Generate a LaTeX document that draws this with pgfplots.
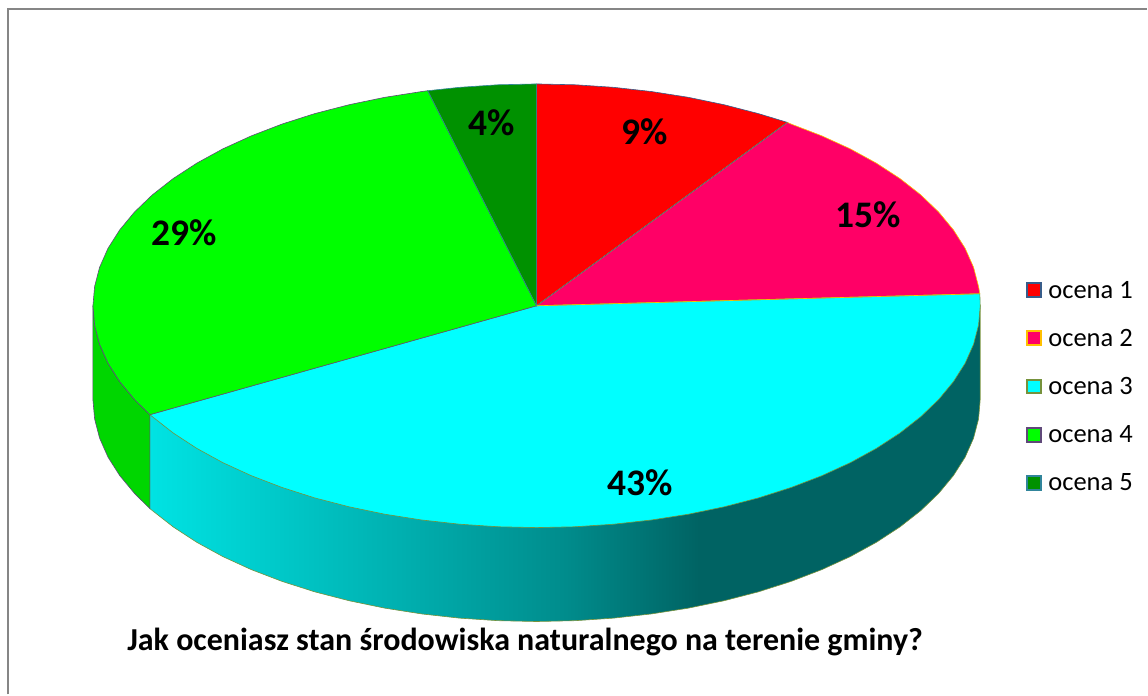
\documentclass[border=0pt]{standalone}
\usepackage{fontspec}
\setmainfont{Carlito}
\usepackage{pgfplots}
\pgfplotsset{compat=1.18}
\definecolor{eA}{RGB}{56,93,138}
\definecolor{eB}{RGB}{255,192,0}
\definecolor{eC}{RGB}{118,146,60}
\definecolor{eD}{RGB}{96,73,122}
\definecolor{eE}{RGB}{49,133,155}
\definecolor{sA}{RGB}{255,0,0}
\definecolor{sB}{RGB}{255,0,102}
\definecolor{sC}{RGB}{0,255,255}
\definecolor{sD}{RGB}{0,255,0}
\definecolor{sE}{RGB}{0,145,0}
\definecolor{frameGray}{RGB}{134,134,134}
\pgfdeclarehorizontalshading{cyanwall}{100bp}{
  rgb(0bp)=(0,0.89,0.89);
  rgb(25bp)=(0,0.89,0.89);
  rgb(40bp)=(0,0.69,0.69);
  rgb(50bp)=(0,0.55,0.55);
  rgb(58bp)=(0,0.39,0.39);
  rgb(100bp)=(0,0.39,0.39)}
\begin{document}
\begin{tikzpicture}
\begin{axis}[
  scale only axis, width=1148pt, height=695pt,
  xmin=0, xmax=1148, ymin=0, ymax=695, y dir=reverse,
  hide axis, clip=false,
  legend image code/.code={\draw[#1,line width=2pt] (0pt,-7pt) rectangle (14.5pt,7pt);},
  legend style={at={(axis cs:1026.5,281)}, anchor=north west, draw=none, fill=none,
    font=\fontsize{26.5}{26.5}\selectfont, row sep=29.5pt, inner sep=0pt,
    nodes={inner xsep=6pt, inner ysep=0pt}},
  legend cell align=left,
]
\path (axis cs:0,0) rectangle (axis cs:1148,695);
% frame
\addplot[frameGray, line width=1.8pt, forget plot] coordinates {(8,695) (8,9) (1148,9)};
% side walls
\addplot[shade, shading=cyanwall, draw=eC, line width=0.6pt, forget plot] coordinates {
(981,306) (981,400) (979.3,419.35) (974.3,438.55) (965.9,457.5) (954.2,475.9) (939.4,493.8) (921.5,511)
(900.7,527.3) (877.1,542.7) (851,557) (822.4,570.1) (791.7,581.85) (759,592.3) (724.6,601.2) (688.9,608.6)
(651.9,614.4) (614.1,618.6) (575.7,621.15) (537,622) (498.3,621.15) (459.9,618.6) (422.1,614.4) (385.1,608.6)
(349.4,601.2) (315,592.3) (282.3,581.85) (251.6,570.1) (223,557) (196.9,542.7) (173.3,527.3) (152.5,511)
(150,509) (150,415)} -- cycle;
\addplot[fill={rgb,255:red,0;green,214;blue,0}, draw=eD, line width=0.6pt, forget plot] coordinates {
(150,509) (134.6,493.8) (119.8,475.9) (108.1,457.5) (99.7,438.55) (94.7,419.35) (93,400) (93,306)
(94.7,325.35) (99.7,344.55) (108.1,363.5) (119.8,381.9) (134.6,399.8) (150,415)} -- cycle;
% top slices
\addplot[fill=sA, draw=eA, line width=0.6pt] coordinates {
(537,306) (537,84) (575.7,84.85) (614.1,87.4) (651.9,91.6) (688.9,97.4) (724.6,104.8) (759,113.7) (788,122.5)} -- cycle;
\addlegendentry{ocena 1}
\addplot[fill=sB, draw=eB, line width=0.6pt] coordinates {
(537,306) (788,122.5) (791.7,124.15) (822.4,135.94) (851,149) (877.1,163.3) (900.7,178.7) (921.5,195) (939.4,212.2)
(954.2,230.1) (965.9,248.5) (974.3,267.45) (979.3,286.65) (980.6,294)} -- cycle;
\addlegendentry{ocena 2}
\addplot[fill=sC, draw=eC, line width=0.6pt] coordinates {
(537,306) (980.6,294) (981,306) (979.3,325.35) (974.3,344.55) (965.9,363.5) (954.2,381.9) (939.4,399.8) (921.5,417)
(900.7,433.3) (877.1,448.7) (851,463) (822.4,476.1) (791.7,487.85) (759,498.3) (724.6,507.2) (688.9,514.6)
(651.9,520.4) (614.1,524.6) (575.7,527.15) (537,528) (498.3,527.15) (459.9,524.6) (422.1,520.4) (385.1,514.6)
(349.4,507.2) (315,498.3) (282.3,487.85) (251.6,476.1) (223,463) (196.9,448.7) (173.3,433.3) (152.5,417) (150,415)} -- cycle;
\addlegendentry{ocena 3}
\addplot[fill=sD, draw=eD, line width=0.6pt] coordinates {
(537,306) (150,415) (134.6,399.8) (119.8,381.9) (108.1,363.5) (99.7,344.55) (94.7,325.35) (93,306) (94.7,286.65)
(99.7,267.45) (108.1,248.5) (119.8,230.1) (134.6,212.2) (152.5,195) (173.3,178.7) (196.9,163.3) (223,149)
(251.6,135.94) (282.3,124.15) (315,113.7) (349.4,104.8) (385.1,97.4) (422.1,91.6) (428.1,90.8)} -- cycle;
\addlegendentry{ocena 4}
\addplot[fill=sE, draw=eE, line width=0.6pt] coordinates {
(537,306) (428.1,90.8) (459.9,87.4) (498.3,84.85) (537,84)} -- cycle;
\addlegendentry{ocena 5}
% slice-boundary edges as in the reference
\addplot[eA, line width=0.6pt, forget plot] coordinates {(537,306) (788,122.5)};
\addplot[eB, line width=0.6pt, forget plot] coordinates {(537,306) (980.6,294)};
% data labels
\node[font=\fontsize{37.5}{37.5}\selectfont\bfseries] at (axis cs:645,132) {9\%};
\node[font=\fontsize{37.5}{37.5}\selectfont\bfseries] at (axis cs:869,215) {15\%};
\node[font=\fontsize{37.5}{37.5}\selectfont\bfseries] at (axis cs:641,483) {43\%};
\node[font=\fontsize{37.5}{37.5}\selectfont\bfseries] at (axis cs:184,233) {29\%};
\node[font=\fontsize{37.5}{37.5}\selectfont\bfseries] at (axis cs:492,123) {4\%};
% title
\node[font=\fontsize{32}{32}\selectfont\bfseries] at (axis cs:525.5,642) {Jak oceniasz stan środowiska naturalnego na terenie gminy?};
\end{axis}
\end{tikzpicture}
\end{document}
